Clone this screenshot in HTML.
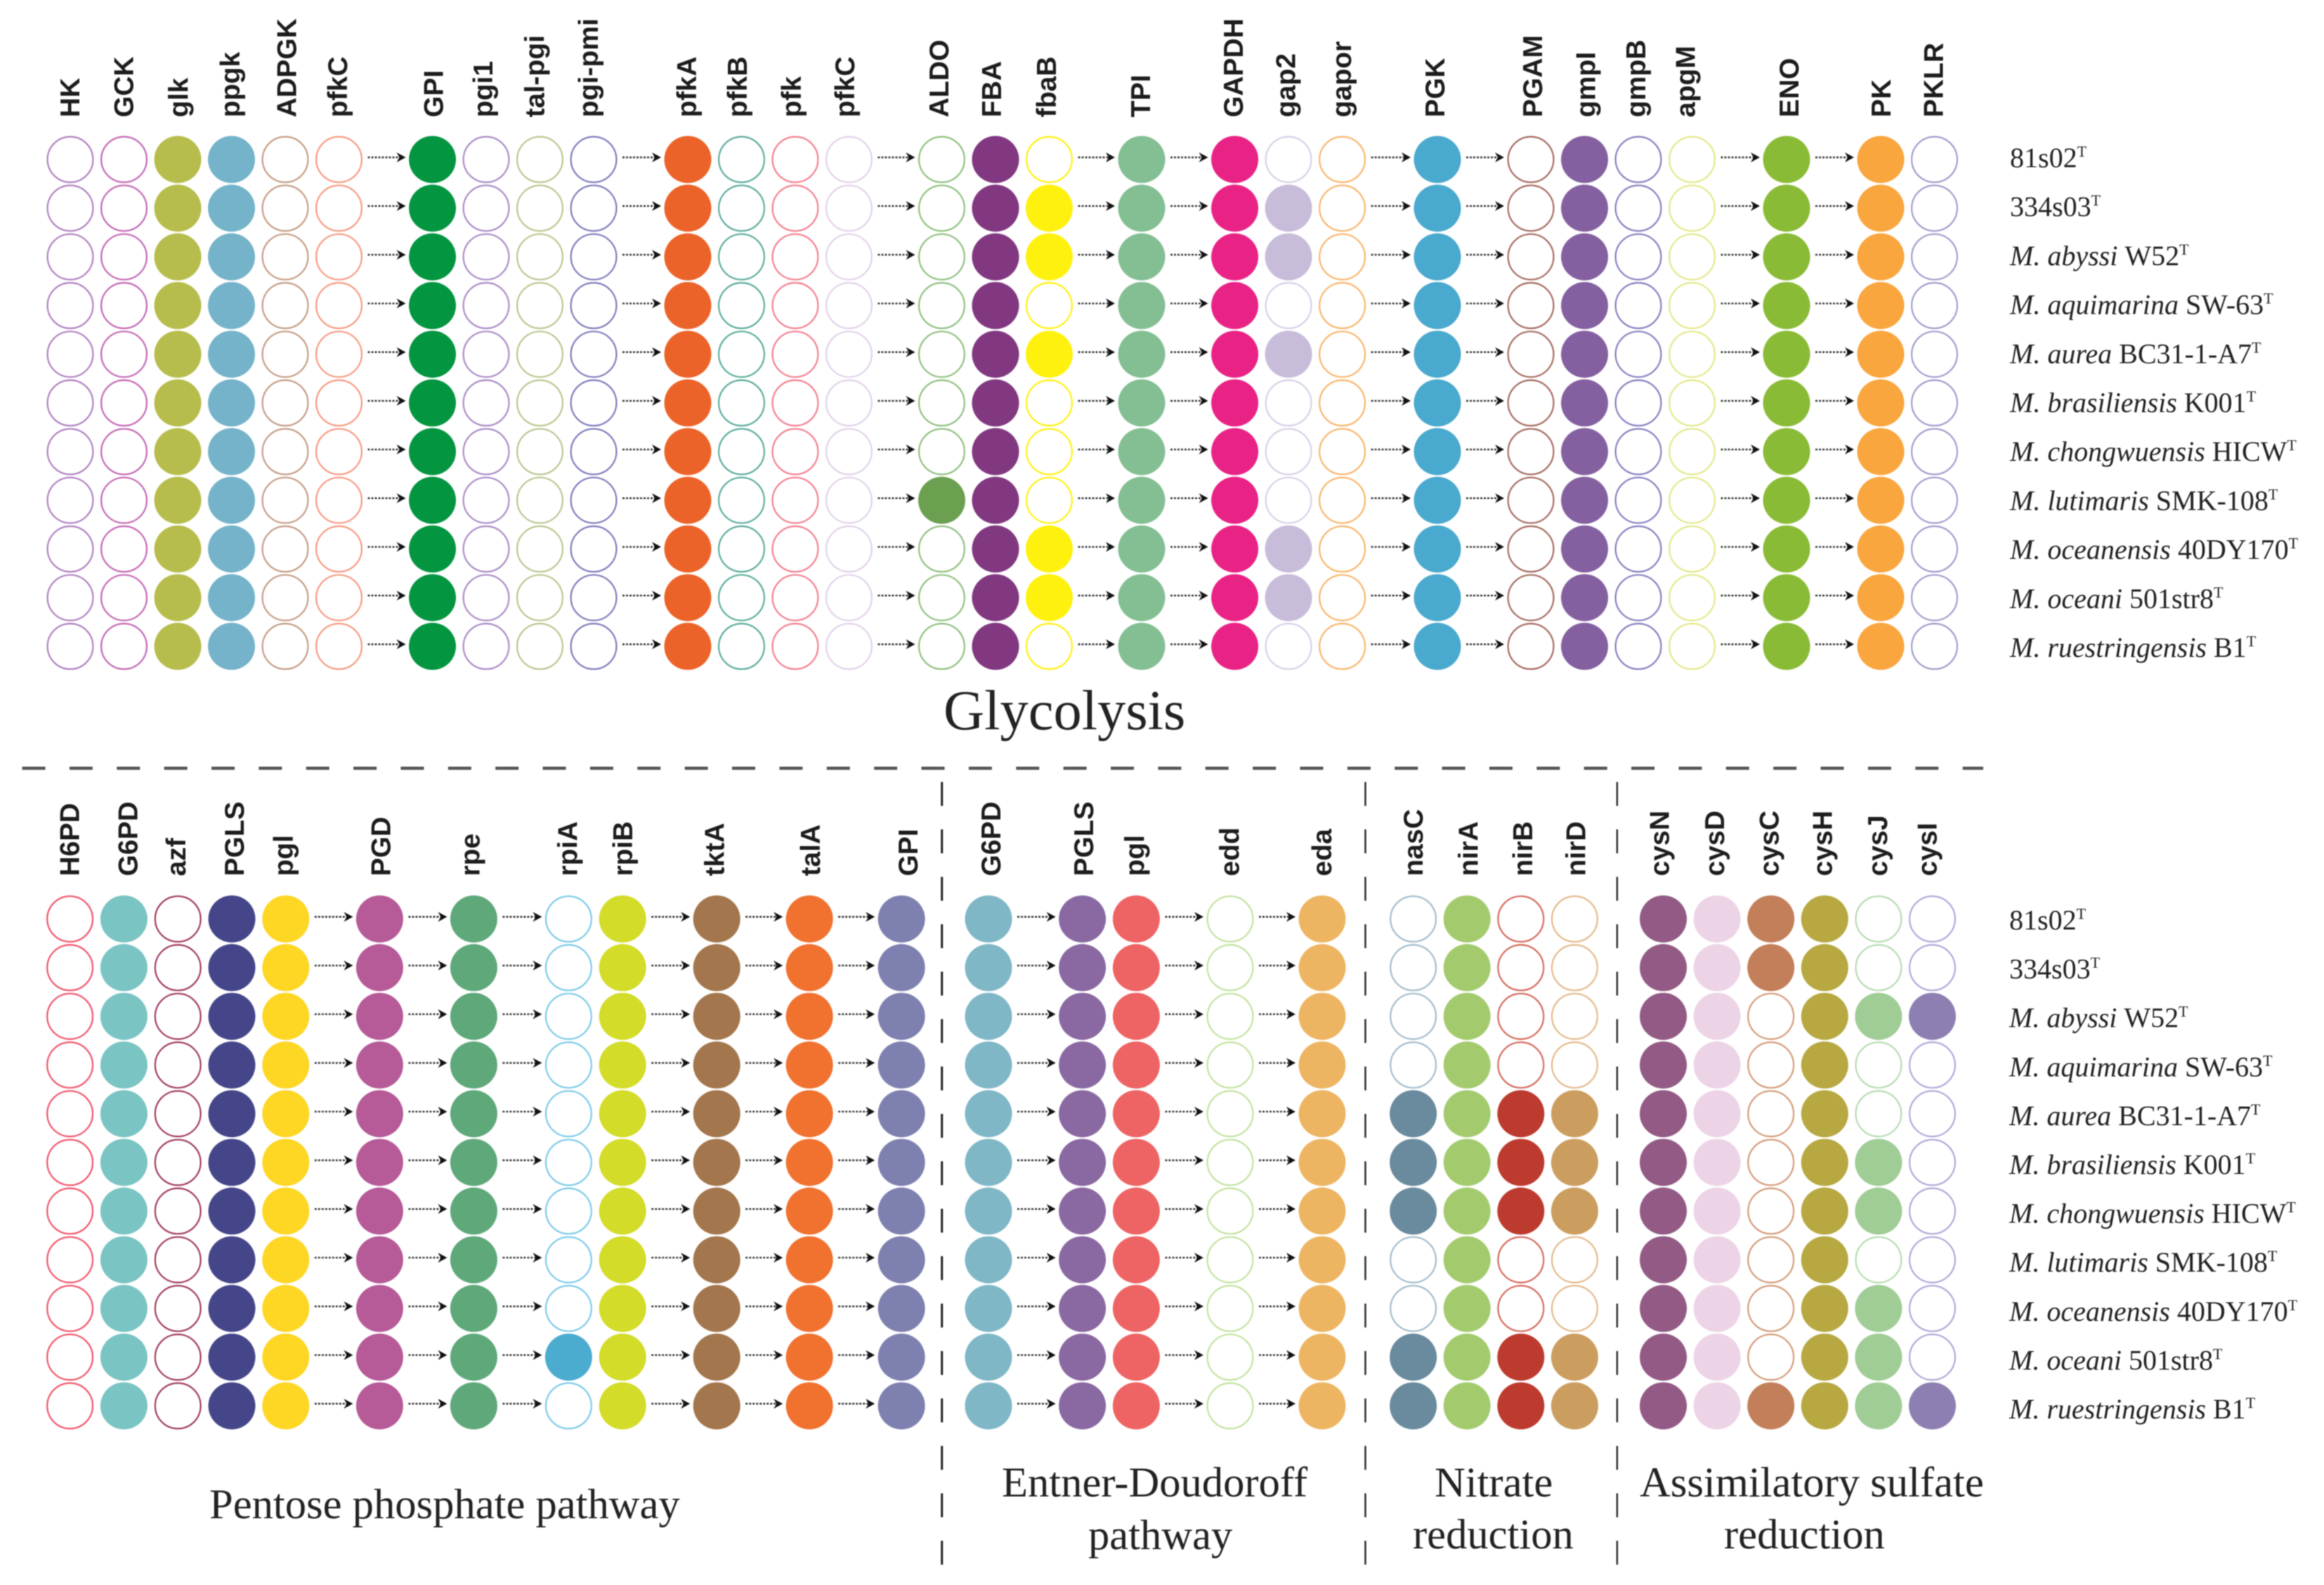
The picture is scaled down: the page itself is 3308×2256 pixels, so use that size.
<!DOCTYPE html>
<html lang="en">
<head>
<meta charset="utf-8">
<title>Metabolic pathway gene presence across Marinobacter-like strains</title>
<style>
html,body{margin:0;padding:0;background:#fff;width:3308px;height:2256px;overflow:hidden}
svg{display:block;filter:blur(0.8px)}
.gene{font-family:"Liberation Sans",sans-serif;font-weight:700;font-size:39px;fill:#1c1c1c}
.sp{font-family:"Liberation Serif",serif;font-size:40px;fill:#222}
.title{font-family:"Liberation Serif",serif;font-size:60.6px;fill:#222}
</style>
</head>
<body>
<svg id="chart" xmlns="http://www.w3.org/2000/svg" width="3308" height="2256" viewBox="0 0 3308 2256">
  <rect x="0" y="0" width="3308" height="2256" fill="#fff"/>
  <g id="marks"></g>
  <g id="labels"></g>
  <line x1="31.5" y1="1093.5" x2="2823" y2="1093.5" stroke="#555" stroke-width="4.5" stroke-dasharray="33 34.37"/>
  <line x1="1340.7" y1="1113" x2="1340.7" y2="2228" stroke="#222" stroke-width="3" stroke-dasharray="34 33.5"/>
  <line x1="1943.5" y1="1113" x2="1943.5" y2="2228" stroke="#333" stroke-width="2.6" stroke-dasharray="34 33.5"/>
  <line x1="2301.8" y1="1113" x2="2301.8" y2="2228" stroke="#333" stroke-width="2.6" stroke-dasharray="34 33.5"/>
  <text class="title" x="1343" y="1038" style="font-size:80.5px">Glycolysis</text>
  <text class="title" x="298" y="2161">Pentose phosphate pathway</text>
  <text class="title" x="1426" y="2130">Entner-Doudoroff</text>
  <text class="title" x="1549" y="2205">pathway</text>
  <text class="title" x="2042" y="2130">Nitrate</text>
  <text class="title" x="2011" y="2204">reduction</text>
  <text class="title" x="2334" y="2130">Assimilatory sulfate</text>
  <text class="title" x="2454" y="2204">reduction</text>
</svg>
<script>
// ---- data ----
const speciesItalic = ["", "", "M. abyssi", "M. aquimarina", "M. aurea", "M. brasiliensis", "M. chongwuensis", "M. lutimaris", "M. oceanensis", "M. oceani", "M. ruestringensis"];
const speciesStrain = ["81s02", "334s03", "W52", "SW-63", "BC31-1-A7", "K001", "HICW", "SMK-108", "40DY170", "501str8", "B1"];

const glyGenes = ["HK","GCK","glk","ppgk","ADPGK","pfkC","GPI","pgi1","tal-pgi","pgi-pmi","pfkA","pfkB","pfk","pfkC","ALDO","FBA","fbaB","TPI","GAPDH","gap2","gapor","PGK","PGAM","gmpI","gmpB","apgM","ENO","PK","PKLR"];
const glySteps = [6,4,4,3,1,3,1,4,1,2];
const glyPresence = [
 [0,0,0,0,0,0,0,0,0,0,0],[0,0,0,0,0,0,0,0,0,0,0],[1,1,1,1,1,1,1,1,1,1,1],[1,1,1,1,1,1,1,1,1,1,1],[0,0,0,0,0,0,0,0,0,0,0],[0,0,0,0,0,0,0,0,0,0,0],
 [1,1,1,1,1,1,1,1,1,1,1],[0,0,0,0,0,0,0,0,0,0,0],[0,0,0,0,0,0,0,0,0,0,0],[0,0,0,0,0,0,0,0,0,0,0],
 [1,1,1,1,1,1,1,1,1,1,1],[0,0,0,0,0,0,0,0,0,0,0],[0,0,0,0,0,0,0,0,0,0,0],[0,0,0,0,0,0,0,0,0,0,0],
 [0,0,0,0,0,0,0,1,0,0,0],[1,1,1,1,1,1,1,1,1,1,1],[0,1,1,0,1,0,0,0,1,1,0],
 [1,1,1,1,1,1,1,1,1,1,1],
 [1,1,1,1,1,1,1,1,1,1,1],[0,1,1,0,1,0,0,0,1,1,0],[0,0,0,0,0,0,0,0,0,0,0],
 [1,1,1,1,1,1,1,1,1,1,1],
 [0,0,0,0,0,0,0,0,0,0,0],[1,1,1,1,1,1,1,1,1,1,1],[0,0,0,0,0,0,0,0,0,0,0],[0,0,0,0,0,0,0,0,0,0,0],
 [1,1,1,1,1,1,1,1,1,1,1],
 [1,1,1,1,1,1,1,1,1,1,1],[0,0,0,0,0,0,0,0,0,0,0]
];

const pppGenes = ["H6PD","G6PD","azf","PGLS","pgl","PGD","rpe","rpiA","rpiB","tktA","talA","GPI"];
const pppSteps = [5,1,1,2,1,1,1];
const pppPresence = [
 [0,0,0,0,0,0,0,0,0,0,0],[1,1,1,1,1,1,1,1,1,1,1],[0,0,0,0,0,0,0,0,0,0,0],[1,1,1,1,1,1,1,1,1,1,1],[1,1,1,1,1,1,1,1,1,1,1],
 [1,1,1,1,1,1,1,1,1,1,1],[1,1,1,1,1,1,1,1,1,1,1],[0,0,0,0,0,0,0,0,0,1,0],[1,1,1,1,1,1,1,1,1,1,1],
 [1,1,1,1,1,1,1,1,1,1,1],[1,1,1,1,1,1,1,1,1,1,1],[1,1,1,1,1,1,1,1,1,1,1]
];

const edGenes = ["G6PD","PGLS","pgl","edd","eda"];
const edSteps = [1,2,1,1];
const edPresence = [[1,1,1,1,1,1,1,1,1,1,1],[1,1,1,1,1,1,1,1,1,1,1],[1,1,1,1,1,1,1,1,1,1,1],[0,0,0,0,0,0,0,0,0,0,0],[1,1,1,1,1,1,1,1,1,1,1]];

const nitGenes = ["nasC","nirA","nirB","nirD"];
const nitSteps = [4];
const nitPresence = [[0,0,0,0,1,1,1,0,0,1,1],[1,1,1,1,1,1,1,1,1,1,1],[0,0,0,0,1,1,1,0,0,1,1],[0,0,0,0,1,1,1,0,0,1,1]];

const sulGenes = ["cysN","cysD","cysC","cysH","cysJ","cysI"];
const sulSteps = [6];
const sulPresence = [[1,1,1,1,1,1,1,1,1,1,1],[1,1,1,1,1,1,1,1,1,1,1],[1,1,0,0,0,0,0,0,0,0,1],[1,1,1,1,1,1,1,1,1,1,1],[0,0,1,0,0,1,1,0,1,1,1],[0,0,1,0,0,0,0,0,0,0,1]];

// ---- styles (kept apart from the data) ----
const glyColors = ["#b080c0","#c468b4","#b7bd4c","#74b3c9","#c49c84","#f79a82","#039540","#a98bc6","#b9c78f","#7e7cbc","#ec6329","#5cab9c","#f37f8e","#e2d2ea","#8fc07f","#813880","#fff10e","#83bf92","#e92386","#c8bcdb","#f9b56b","#4aa9ce","#a56a60","#8560a0","#8580c0","#e4e88a","#8abb36","#f9a63f","#a09ccc"];
const pppColors = ["#f0556a","#7bc4c4","#a03a60","#454689","#fed624","#b65a98","#5ea87a","#4bacd0","#d3dc28","#a3764d","#f1712f","#7e80b0"];
const edColors = ["#7fb7c6","#8a68a2","#ee6363","#c2e29e","#edb562"];
const nitColors = ["#6a8a9e","#a3cb6e","#bd3a2f","#cb9e5f"];
const sulColors = ["#925a84","#edd3e6","#c27f59","#b7a841","#a0cc96","#8d7fb2"];
const filledShade = { ALDO: "#6ba050" };
const hollowShade = { gap2: "#d8d0e6", rpiA: "#7ccae8", nasC: "#a3bccb", nirB: "#d4685c", nirD: "#e3b98a", cysC: "#d49a78", cysJ: "#b5dcb0", cysI: "#b0a8d8" };

// ---- layout ----
const glyGaps = [133,134,132,131.5,132.6,135.4,133,134.5,134];
const pppGaps = [133.6,134,135,134,132,131];
const edGaps = [133.6,133.6,131];
const glyLabelNudge = [13,13,14.5,11.5,15.5,11.6,15,9,6,6,12,7.5,8,7.5,9.5,8,9.5,12,11.5,9.5,12.4,10,16,15,10,4,17,14,12];
const pppLabelNudge = [12.7,19,11,17,10,15,8,12,14,10.5,15,23];
const edLabelNudge = [17,15.5,11,12.5,13];
const nitLabelNudge = [13.5,15.5,16,15];
const sulLabelNudge = [8,10,11,10,12,6];

const NS = "http://www.w3.org/2000/svg";
const marks = document.getElementById("marks");
const labels = document.getElementById("labels");
const ROW_STEP = 69.3;
const RADIUS = 33.5;

function rowY(top, i) { return top + i * ROW_STEP; }

function columnXs(startX, steps, pitch, gaps) {
  const xs = [];
  const breaks = [];
  let x = startX;
  steps.forEach(function (n, s) {
    if (s > 0) {
      breaks.push(xs.length);
      x += gaps[s - 1] - pitch;
    }
    for (let k = 0; k < n; k++) {
      xs.push(x);
      x += pitch;
    }
  });
  return { xs: xs, breaks: breaks };
}

function drawDot(cx, cy, color, present, gene, row) {
  const el = document.createElementNS(NS, "circle");
  
  
  el.setAttribute("cx", cx);
  el.setAttribute("cy", cy);
  if (present) {
    el.setAttribute("r", RADIUS);
    el.setAttribute("fill", filledShade[gene] || color);
  } else {
    el.setAttribute("r", RADIUS - 1.1);
    el.setAttribute("fill", "none");
    el.setAttribute("stroke", hollowShade[gene] || color);
    el.setAttribute("stroke-width", "2.2");
  }
  marks.appendChild(el);
}

function drawArrow(x1, x2, y) {
  const line = document.createElementNS(NS, "line");
  
  
  line.setAttribute("x1", x1);
  line.setAttribute("x2", x2 - 9);
  line.setAttribute("y1", y);
  line.setAttribute("y2", y);
  line.setAttribute("stroke", "#333");
  line.setAttribute("stroke-width", "2.4");
  line.setAttribute("stroke-dasharray", "3 2");
  marks.appendChild(line);
  const head = document.createElementNS(NS, "path");
  
  
  head.setAttribute("d", "M" + x2 + " " + y + "L" + (x2 - 13) + " " + (y - 7) + "L" + (x2 - 9) + " " + y + "L" + (x2 - 13) + " " + (y + 7) + "Z");
  head.setAttribute("fill", "#111");
  marks.appendChild(head);
}

function drawGeneLabel(name, x, bottom) {
  const t = document.createElementNS(NS, "text");
  
  
  t.setAttribute("class", "gene");
  t.setAttribute("transform", "translate(" + x + " " + bottom + ") rotate(-90)");
  t.textContent = name;
  labels.appendChild(t);
}

function drawPanel(genes, steps, colors, presence, nudges, startX, topY, labelBottom, pitch, gaps) {
  const layout = columnXs(startX, steps, pitch, gaps);
  genes.forEach(function (g, c) {
    drawGeneLabel(g, layout.xs[c] + nudges[c], labelBottom);
    presence[c].forEach(function (v, r) {
      drawDot(layout.xs[c], rowY(topY, r), colors[c], v === 1, g, r);
    });
  });
  layout.breaks.forEach(function (b) {
    speciesStrain.forEach(function (_, r) {
      drawArrow(layout.xs[b - 1] + 41, layout.xs[b] - 38, rowY(topY, r) - 3);
    });
  });
}

function drawSpecies(x, top, step) {
  speciesStrain.forEach(function (strain, i) {
    const t = document.createElementNS(NS, "text");
    
    
    t.setAttribute("class", "sp");
    t.setAttribute("x", x);
    t.setAttribute("y", top + i * step);
    if (speciesItalic[i]) {
      const it = document.createElementNS(NS, "tspan");
      it.setAttribute("font-style", "italic");
      it.textContent = speciesItalic[i] + " ";
      t.appendChild(it);
    }
    const st = document.createElementNS(NS, "tspan");
    st.textContent = strain;
    t.appendChild(st);
    const sup = document.createElementNS(NS, "tspan");
    sup.setAttribute("font-size", "22");
    sup.setAttribute("dy", "-15");
    sup.textContent = "T";
    t.appendChild(sup);
    labels.appendChild(t);
  });
}

drawPanel(glyGenes, glySteps, glyColors, glyPresence, glyLabelNudge, 100, 227, 167, 76.5, glyGaps);
drawPanel(pppGenes, pppSteps, pppColors, pppPresence, pppLabelNudge, 99.6, 1308, 1247, 76.8, pppGaps);
drawPanel(edGenes, edSteps, edColors, edPresence, edLabelNudge, 1407, 1308, 1247, 76.8, edGaps);
drawPanel(nitGenes, nitSteps, nitColors, nitPresence, nitLabelNudge, 2011.6, 1308, 1247, 76.6, []);
drawPanel(sulGenes, sulSteps, sulColors, sulPresence, sulLabelNudge, 2367.5, 1308, 1247, 76.6, []);
drawSpecies(2861, 238, 69.7);
drawSpecies(2860, 1323, 69.6);
</script>
</body>
</html>
